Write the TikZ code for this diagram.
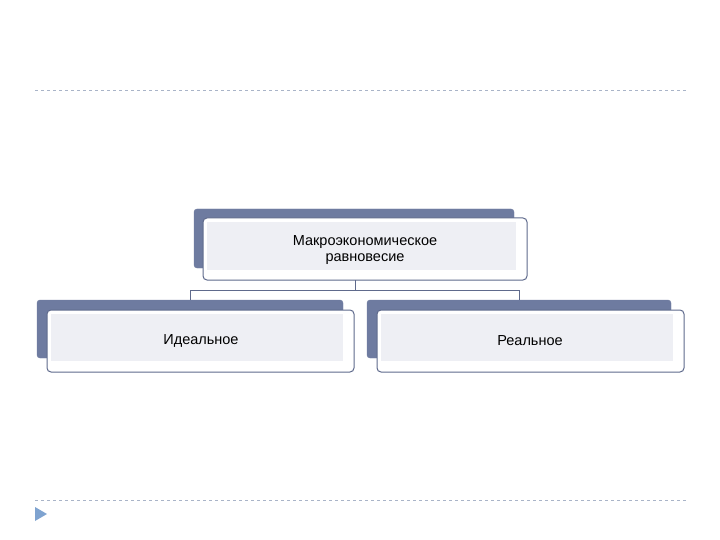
\documentclass[tikz,border=0pt]{standalone}
\usepackage{fontspec}
\setmainfont{Liberation Sans}
\definecolor{slate}{HTML}{6E7BA0}
\definecolor{pale}{HTML}{EEEFF4}
\definecolor{edge}{HTML}{5F6A8C}
\definecolor{dash}{HTML}{A9B4C8}
\definecolor{tri}{HTML}{7FA3D0}
\begin{document}
\begin{tikzpicture}[x=1pt,y=-1pt,
 back/.style={fill=slate,draw=slate,rounded corners=3pt},
 front/.style={draw=edge,line width=1pt,fill=white,rounded corners=4pt},
 inner/.style={fill=pale},
 lbl/.style={font=\fontsize{14.5}{16}\selectfont,align=center,text=black},
 conn/.style={draw=edge,line width=0.9pt},
 sep/.style={draw=dash,dashed,line width=0.6pt}]
\useasboundingbox (0,0) rectangle (720,540);
\draw[sep] (35,90) coordinate(l1a) -- (686,90) coordinate(l1b);
\draw[sep] (35,500) coordinate(l2a) -- (686,500) coordinate(l2b);
\fill[tri] (35,507) -- (35,521) -- (47,514) -- cycle;
% top
\path[back] (194,209) rectangle (514,268);
\path[front] (203,218) rectangle (527,280);
\fill[inner] (207,222) rectangle (516,270);
\node[lbl] (top) at (365,250) {Макроэкономическое\\равновесие};
% left
\path[back] (37,300) rectangle (343,358);
\path[front] (47,310) rectangle (354,372);
\fill[inner] (51,314) rectangle (343,361);
\node[lbl] (left) at (201,341) {Идеальное};
% right
\path[back] (367,300) rectangle (671,358);
\path[front] (377,310) rectangle (684,372);
\fill[inner] (381,314) rectangle (673,361);
\node[lbl] (right) at (530,341) {Реальное};
\coordinate (tb) at (355,280);
\coordinate (lt) at (190,300);
\coordinate (rt) at (519,300);
\draw[conn] (tb) -- (355,290) -| (lt);
\draw[conn] (355,290) -| (rt);
\end{tikzpicture}
\end{document}
